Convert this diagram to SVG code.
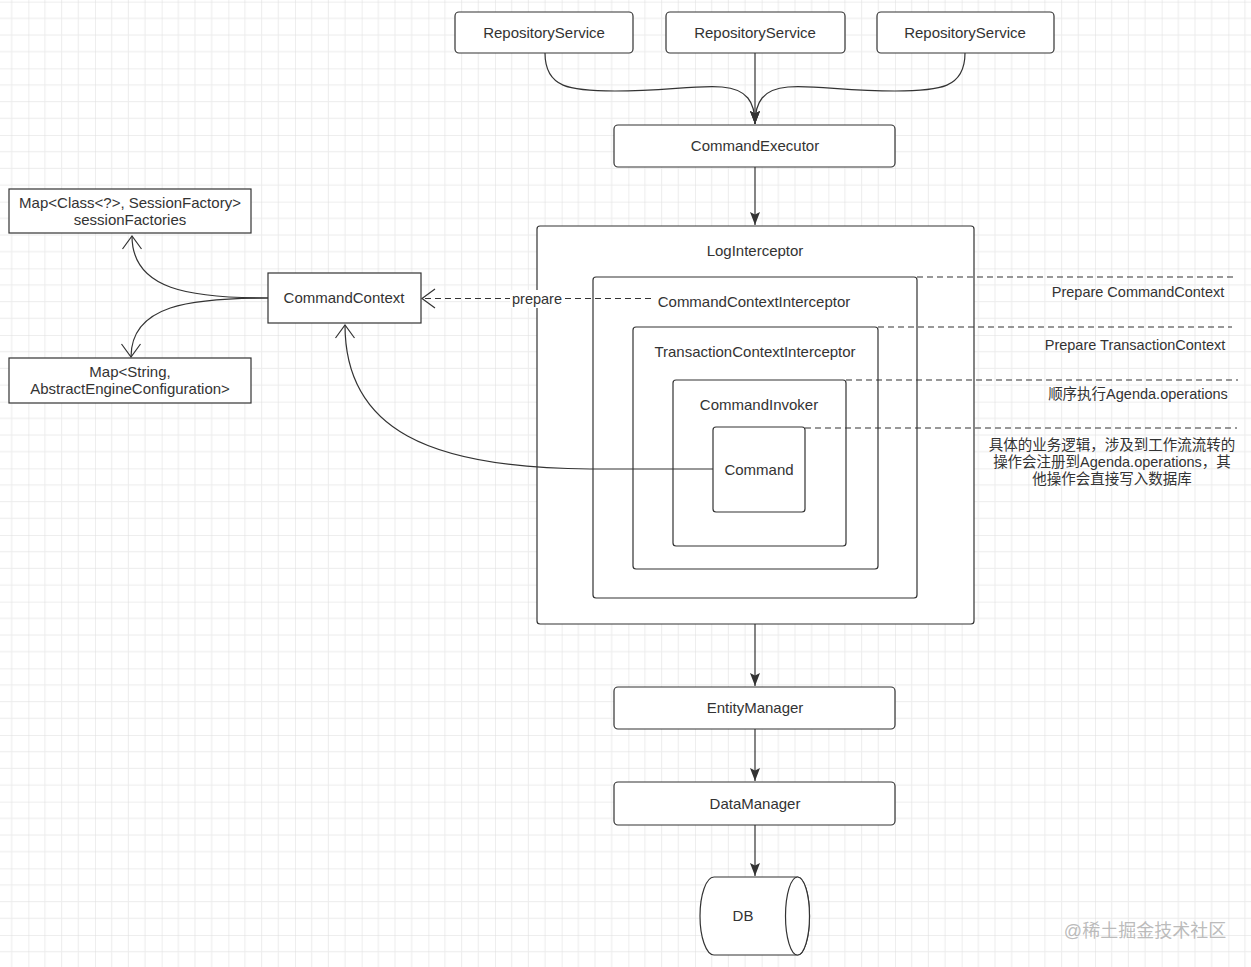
<svg xmlns="http://www.w3.org/2000/svg" width="1251" height="967" viewBox="0 0 1251 967">
<defs>
  <pattern id="grid" patternUnits="userSpaceOnUse" x="28.33" y="1.67" width="66.667" height="66.667">
    <path d="M16.667 0V66.667M33.333 0V66.667M50 0V66.667M0 16.667H66.667M0 33.333H66.667M0 50H66.667" stroke="#ececec" stroke-width="1" fill="none"/>
    <path d="M0 0V66.667M0 0H66.667" stroke="#dedede" stroke-width="1" fill="none"/>
  </pattern>
  <marker id="block" markerUnits="userSpaceOnUse" viewBox="0 0 14 10" refX="13" refY="5" markerWidth="14" markerHeight="10" orient="auto">
    <path d="M0,0 L13,5 L0,10 L2.5,5 z" fill="#333"/>
  </marker>
  <marker id="open" markerUnits="userSpaceOnUse" viewBox="0 0 16 22" refX="14" refY="11" markerWidth="16" markerHeight="22" orient="auto">
    <path d="M1,1.5 L14,11 L1,20.5" fill="none" stroke="#333" stroke-width="1.2"/>
  </marker>
  <style>
    .box{fill:#fff;stroke:#333;stroke-width:1.2}
    .t{font-family:"Liberation Sans","Noto Sans CJK SC",sans-serif;font-size:15px;fill:#333;text-anchor:middle;dominant-baseline:central}
    .r{font-family:"Liberation Sans","Noto Sans CJK SC",sans-serif;font-size:14.5px;fill:#333;text-anchor:middle;dominant-baseline:central}
    .e{fill:none;stroke:#333;stroke-width:1.2}
    .d{fill:none;stroke:#333;stroke-width:1.2;stroke-dasharray:6 4}
  </style>
</defs>
<rect width="1251" height="967" fill="#fff"/>
<rect width="1251" height="967" fill="url(#grid)"/>

<g id="repo1"><rect class="box" x="455" y="12" width="178" height="41" rx="4"/><text class="t" x="544" y="32">RepositoryService</text></g>
<g id="repo2"><rect class="box" x="666" y="12" width="179" height="41" rx="4"/><text class="t" x="755" y="32">RepositoryService</text></g>
<g id="repo3"><rect class="box" x="877" y="12" width="177" height="41" rx="4"/><text class="t" x="965" y="32">RepositoryService</text></g>
<g id="commandExecutor"><rect class="box" x="614" y="125" width="281" height="42" rx="4"/><text class="t" x="755" y="145">CommandExecutor</text></g>

<g id="logInterceptor"><rect class="box" x="537" y="226" width="437" height="398" rx="3"/><text class="t" x="755" y="250">LogInterceptor</text></g>
<g id="commandContextInterceptor"><rect class="box" x="593" y="277" width="324" height="321" rx="3"/><text class="t" x="754" y="301">CommandContextInterceptor</text></g>
<g id="transactionContextInterceptor"><rect class="box" x="633" y="327" width="245" height="242" rx="3"/><text class="t" x="755" y="351">TransactionContextInterceptor</text></g>
<g id="commandInvoker"><rect class="box" x="673" y="380" width="173" height="166" rx="3"/><text class="t" x="759" y="404">CommandInvoker</text></g>
<g id="command"><rect class="box" x="713" y="427" width="92" height="85" rx="3"/><text class="t" x="759" y="469">Command</text></g>

<g id="commandContext"><rect class="box" x="268" y="273" width="153" height="50"/><text class="t" x="344" y="297">CommandContext</text></g>
<g id="sessionFactories"><rect class="box" x="9" y="189" width="242" height="44"/><text class="t" x="130" y="202">Map&lt;Class&lt;?&gt;, SessionFactory&gt;</text><text class="t" x="130" y="219">sessionFactories</text></g>
<g id="engineConfigurations"><rect class="box" x="9" y="358" width="242" height="45"/><text class="t" x="130" y="371">Map&lt;String,</text><text class="t" x="130" y="388">AbstractEngineConfiguration&gt;</text></g>

<g id="entityManager"><rect class="box" x="614" y="687" width="281" height="42" rx="4"/><text class="t" x="755" y="707">EntityManager</text></g>
<g id="dataManager"><rect class="box" x="614" y="782" width="281" height="43" rx="4"/><text class="t" x="755" y="803">DataManager</text></g>
<g id="db">
  <path class="box" d="M714 877 H797.5 A12 39 0 0 1 797.5 955 H714 A14 39 0 0 1 714 877 Z"/>
  <ellipse class="box" cx="797.5" cy="916" rx="12" ry="39"/>
  <text class="t" x="743" y="915">DB</text>
</g>

<g id="connectors">
  <path class="e" d="M545 53 C545 88 570 91 615 91 C665 91 695 85 722 87 C747 89 755 102 755 124" marker-end="url(#block)"/>
  <path class="e" d="M965 53 C965 88 940 91 895 91 C845 91 815 85 788 87 C763 89 755 102 755 124" marker-end="url(#block)"/>
  <path class="e" d="M755 53 V124" marker-end="url(#block)"/>
  <path class="e" d="M755 167 V225" marker-end="url(#block)"/>
  <path class="e" d="M755 624 V686" marker-end="url(#block)"/>
  <path class="e" d="M755 729 V781" marker-end="url(#block)"/>
  <path class="e" d="M755 825 V876" marker-end="url(#block)"/>
  <path class="e" d="M268 298 C190 298 132 290 132 236" marker-end="url(#open)"/>
  <path class="e" d="M268 298 C190 298 131 305 131 357" marker-end="url(#open)"/>
  <path class="e" d="M713 469 L590 469 C430 468 345 430 345 325" marker-end="url(#open)"/>
  <path class="d" d="M651 298.5 H422" marker-end="url(#open)"/>
  <rect x="510" y="290" width="55" height="18" fill="#fff"/>
  <text class="r" x="537" y="299">prepare</text>
  <path class="d" d="M917 277 H1236"/>
  <path class="d" d="M878 327 H1232"/>
  <path class="d" d="M846 380 H1238"/>
  <path class="d" d="M805 428 H1237"/>
</g>

<g id="notes">
  <text class="r" x="1138" y="292">Prepare CommandContext</text>
  <text class="r" x="1135" y="345">Prepare TransactionContext</text>
  <text class="r" x="1138" y="394">顺序执行Agenda.operations</text>
  <text class="r" x="1112" y="445">具体的业务逻辑，涉及到工作流流转的</text>
  <text class="r" x="1112" y="462">操作会注册到Agenda.operations，其</text>
  <text class="r" x="1112" y="479">他操作会直接写入数据库</text>
</g>
<text x="1145" y="931" font-family="'Liberation Sans','Noto Sans CJK SC',sans-serif" font-size="18" fill="#aaa" fill-opacity="0.8" text-anchor="middle" dominant-baseline="central">@稀土掘金技术社区</text>
</svg>
